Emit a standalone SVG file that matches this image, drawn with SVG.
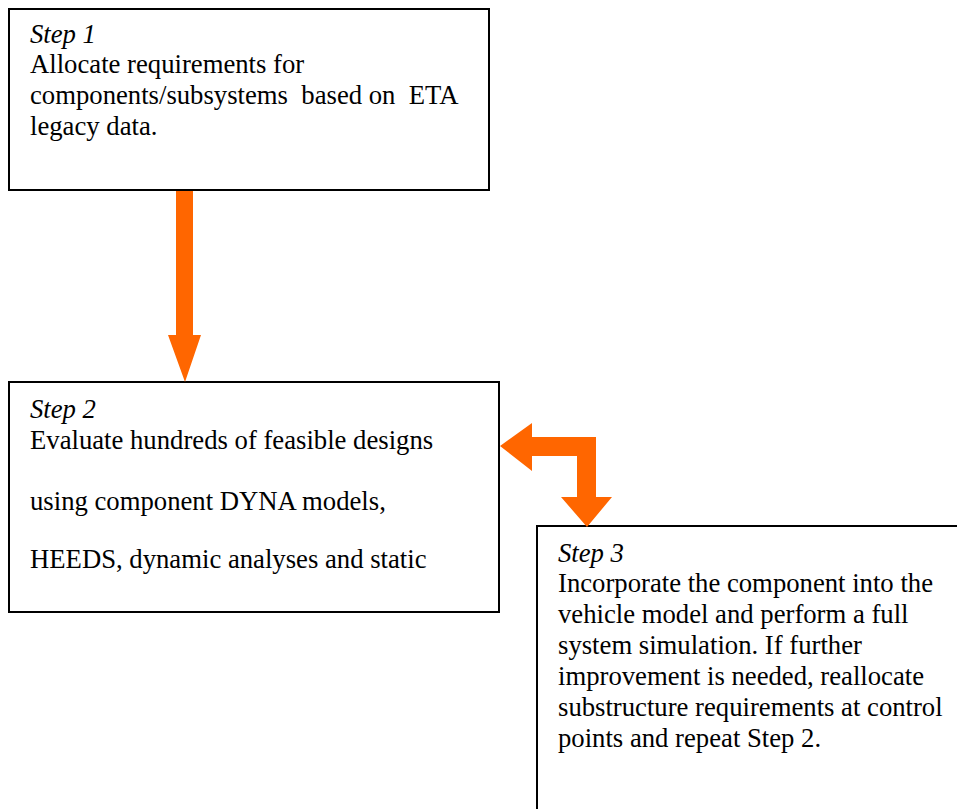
<svg xmlns="http://www.w3.org/2000/svg" width="957" height="809" viewBox="0 0 957 809">
<style>
.box{fill:#fff;stroke:#000;stroke-width:2}
.t{font-family:"Liberation Serif","Times New Roman",serif;font-size:26.7px;fill:#000}
.i{font-style:italic}
.arr{fill:#FF6600;stroke:none}
</style>
<rect width="957" height="809" fill="#fff"/>
<g id="step1">
<rect class="box" x="9" y="9" width="480" height="181"/>
<text class="t" xml:space="preserve"><tspan class="i" x="30" y="43">Step 1</tspan><tspan x="30" y="73">Allocate requirements for</tspan><tspan x="30" y="104">components/subsystems  based on  ETA</tspan><tspan x="30" y="135">legacy data.</tspan></text>
</g>
<g id="step2">
<rect class="box" x="9" y="382" width="490" height="230"/>
<text class="t"><tspan class="i" x="30" y="418">Step 2</tspan><tspan x="30" y="449">Evaluate hundreds of feasible designs</tspan><tspan x="30" y="510">using component DYNA models,</tspan><tspan x="30" y="568">HEEDS, dynamic analyses and static</tspan></text>
</g>
<g id="step3">
<rect class="box" x="537" y="526" width="440" height="300"/>
<text class="t"><tspan class="i" x="558" y="562">Step 3</tspan><tspan x="558" y="592">Incorporate the component into the</tspan><tspan x="558" y="623">vehicle model and perform a full</tspan><tspan x="558" y="654">system simulation. If further</tspan><tspan x="558" y="685">improvement is needed, reallocate</tspan><tspan x="558" y="716">substructure requirements at control</tspan><tspan x="558" y="747">points and repeat Step 2.</tspan></text>
</g>
<g id="connectors">
<path class="arr" d="M176,191 L193,191 L193,335 L201,335 L185,382 L168,335 L176,335 Z"/>
<path class="arr" d="M500,446 L532,423 L532,437 L596,437 L596,497 L612,497 L587,527 L561,497 L577,497 L577,456 L532,456 L532,471 Z"/>
</g>
</svg>
